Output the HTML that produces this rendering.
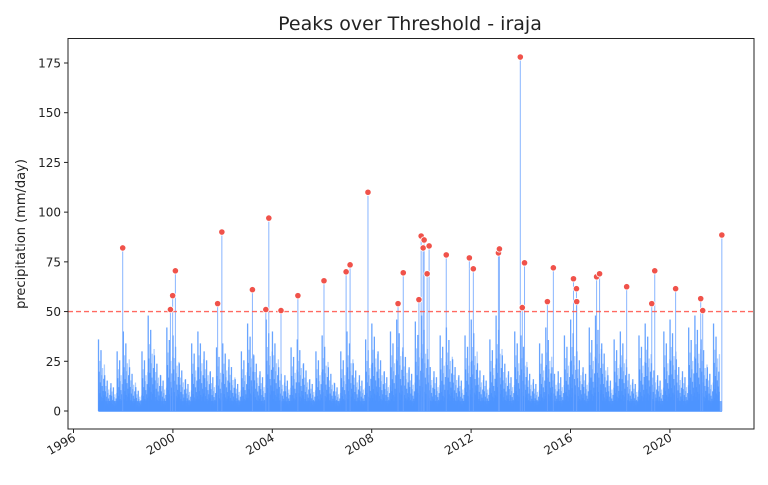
<!DOCTYPE html>
<html><head><meta charset="utf-8"><style>
body{margin:0;background:#fff;width:768px;height:480px;overflow:hidden;font-family:"Liberation Sans","DejaVu Sans",sans-serif}
svg text{font-family:"DejaVu Sans","Liberation Sans",sans-serif}
</style></head><body>
<svg id="chart" width="768" height="480" viewBox="0 0 768 480" xmlns="http://www.w3.org/2000/svg">
<text x="410" y="30" font-size="19" text-anchor="middle" fill="#222">Peaks over Threshold - iraja</text>
<g id="plot"></g>
<rect x="68" y="38.5" width="686" height="390.5" fill="none" stroke="#222" stroke-width="1"/>
<text transform="translate(25,234) rotate(-90)" font-size="13" text-anchor="middle" fill="#222">precipitation (mm/day)</text>
</svg>
<script>
// quarterly typical max of daily precipitation (background), 1997-2021
const quarterStart = 1997;
const quarterMax = [36,18,14,30, 40,22,12,30, 48,28,18,42, 38,24,16,34, 40,30,20,32, 34,26,16,30, 44,28,20,46, 40,22,18,32,
  36,24,16,30, 38,22,14,30, 40,24,18,36, 44,30,20,40, 46,32,22,45, 48,26,20,38, 42,26,18,38, 46,24,18,36, 48,28,20,40,
  38,22,16,34, 42,22,20,38, 46,30,22,42, 48,34,18,36, 40,22,16,38, 44,24,18,40, 46,26,20,42, 48,36,22,44];
const peakDates = [1997.98,1999.9,1999.99,2000.1,2001.8,2001.97,2003.2,2003.74,2003.86,2004.35,2005.03,2006.08,2006.97,2007.13,2007.85,
  2009.06,2009.27,2009.9,2009.99,2010.07,2010.11,2010.23,2010.31,2011.0,2011.93,2012.09,2013.1,2013.14,2013.98,2014.06,2014.15,
  2015.07,2015.31,2016.12,2016.24,2016.25,2017.05,2017.17,2018.26,2019.27,2019.39,2020.23,2021.24,2021.32,2022.09];
const peakValues = [82,51,58,70.5,54,90,61,51,97,50.5,58,65.5,70,73.5,110,54,69.5,56,88,82,86,69,83,78.5,77,71.5,79.5,81.5,178,52,74.5,
  55,72,66.5,61.5,55,67.5,69,62.5,54,70.5,61.5,56.5,50.5,88.5];
const threshold = 50;
const xTicks = [1996,2000,2004,2008,2012,2016,2020];
const yTicks = [0,25,50,75,100,125,150,175];

const NS="http://www.w3.org/2000/svg";
const svg=document.getElementById('chart'), plot=document.getElementById('plot');
const X=y=>73.5+(y-1996)*24.85;
const Y=v=>411-v*1.9886;
function mk(t,a,p){const e=document.createElementNS(NS,t);for(const k in a)e.setAttribute(k,a[k]);(p||plot).appendChild(e);return e;}

const pattern=[1,0.3,0.55,0.15,0.7,0.25,0.4,0.1,0.85,0.2,0.5,0.12,0.35,0.6,0.18,0.28,0.08,0.45,0.22,0.65];
quarterMax.forEach((m,i)=>{
  const t0=quarterStart+i*0.25;
  pattern.forEach((f,j)=>{
    const t=t0+(j+0.5)*0.25/pattern.length;
    const l=mk('line',{x1:X(t),x2:X(t),y1:Y(0),y2:Y(m*f),stroke:'#4d94ff','stroke-width':1.3,'stroke-opacity':(j%3==1)?0.45:0.85});
    
    
  });
});
const base=mk('rect',{x:X(1997),y:Y(5),width:X(2022.1)-X(1997),height:Y(0)-Y(5)+1,fill:'#4d94ff','fill-opacity':0.75});



peakDates.forEach((d,i)=>{
  const s=mk('line',{x1:X(d),x2:X(d),y1:Y(0),y2:Y(peakValues[i]),stroke:'#6aa3ff','stroke-width':1,'stroke-opacity':0.8});
  
  
});

const th=mk('line',{x1:68,x2:754,y1:Y(threshold),y2:Y(threshold),stroke:'#ff5a50','stroke-width':1.4,'stroke-dasharray':'5,3','stroke-opacity':0.9});



peakDates.forEach((d,i)=>{
  const c=mk('circle',{cx:X(d),cy:Y(peakValues[i]),r:3.2,fill:'#f0524a',stroke:'#fff','stroke-width':0.8});
  
  
});

xTicks.forEach(t=>{
  const x=X(t);
  const tk=mk('line',{x1:x,x2:x,y1:429,y2:433,stroke:'#222'},svg);
  
  
  const tx=mk('text',{x:x+3,y:440,'font-size':12,fill:'#222','text-anchor':'end',transform:`rotate(-30 ${x+3} 440)`},svg);
  tx.textContent=t;
  
  
});
yTicks.forEach(v=>{
  const y=Y(v);
  const tk=mk('line',{x1:64,x2:68,y1:y,y2:y,stroke:'#222'},svg);
  
  
  const tx=mk('text',{x:61,y:y+4.5,'font-size':12,fill:'#222','text-anchor':'end'},svg);
  tx.textContent=v;
  
  
});
</script>
</body></html>
